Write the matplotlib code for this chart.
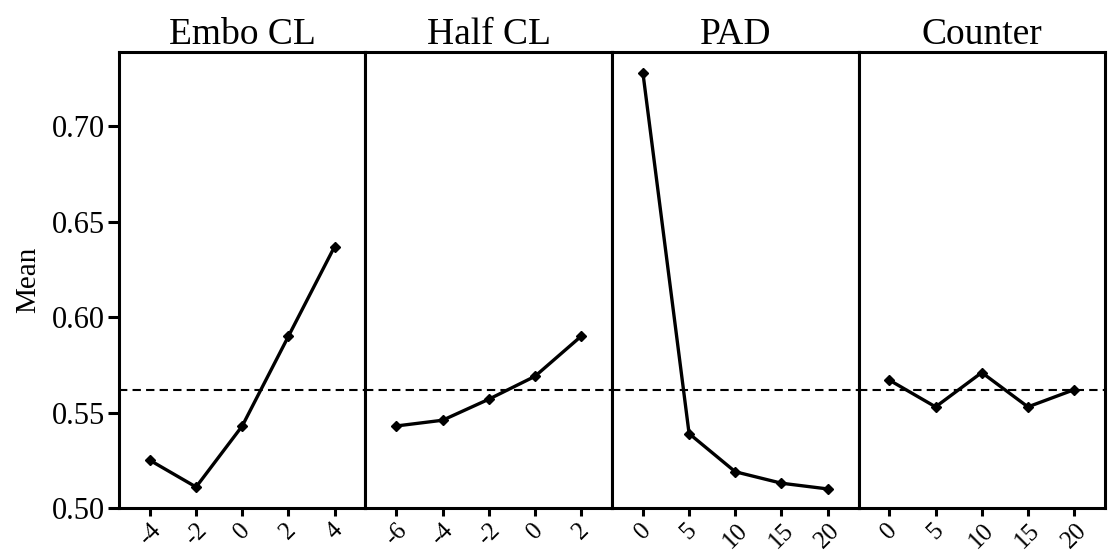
import matplotlib
matplotlib.use('Agg')
import matplotlib.pyplot as plt

plt.rcParams['font.family'] = ['Liberation Serif', 'DejaVu Serif']

factors = ['Embo CL', 'Half CL', 'PAD', 'Counter']
levels = [
    ['-4', '-2', '0', '2', '4'],
    ['-6', '-4', '-2', '0', '2'],
    ['0', '5', '10', '15', '20'],
    ['0', '5', '10', '15', '20'],
]
means = [
    [0.525, 0.511, 0.543, 0.590, 0.637],
    [0.543, 0.546, 0.557, 0.569, 0.590],
    [0.728, 0.539, 0.519, 0.513, 0.510],
    [0.567, 0.553, 0.571, 0.553, 0.562],
]
grand_mean = 0.562

fig, axes = plt.subplots(1, 4, sharey=True, figsize=(11.09, 5.58), dpi=100)
fig.subplots_adjust(left=0.1073, right=0.9964, bottom=0.0896, top=0.9068, wspace=0)

for i, ax in enumerate(axes):
    x = range(len(levels[i]))
    ax.plot(x, means[i], color='black', lw=2.4, marker='D', ms=5)
    ax.axhline(grand_mean, color='black', lw=1.5, ls=(0, (4, 2.5)), zorder=0)
    ax.set_xlim(-0.67, 4.67)
    ax.set_ylim(0.50, 0.739)
    ax.set_xticks(list(x))
    ax.set_xticklabels(levels[i], rotation=45, ha='center', fontsize=18)
    ax.set_title(factors[i], fontsize=27, pad=-2)
    for s in ax.spines.values():
        s.set_linewidth(2.2)
    ax.tick_params(axis='x', direction='out', length=6, width=2.2, pad=2)
    if i == 0:
        ax.tick_params(axis='y', direction='out', length=8, width=2.2, labelsize=22, pad=2)
    else:
        ax.tick_params(axis='y', left=False)

axes[0].set_yticks([0.50, 0.55, 0.60, 0.65, 0.70])
axes[0].set_yticklabels(['0.50', '0.55', '0.60', '0.65', '0.70'])
axes[0].set_ylabel('Mean', fontsize=21, labelpad=8)

plt.savefig('out.png')
